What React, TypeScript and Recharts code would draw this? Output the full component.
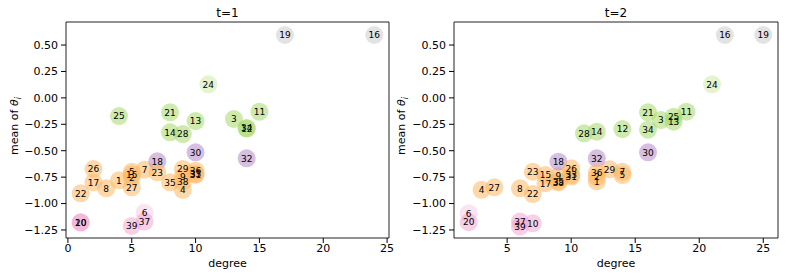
import React from 'react';
import { ScatterChart, Scatter, XAxis, YAxis, ReferenceArea, Customized } from 'recharts';

// node ids 1..39 and the cluster each node belongs to
const nodeIds = [
  1, 2, 3, 4, 5, 6, 7, 8, 9, 10, 11, 12, 13, 14, 15, 16, 17, 18, 19, 20,
  21, 22, 23, 24, 25, 26, 27, 28, 29, 30, 31, 32, 33, 34, 35, 36, 37, 38, 39,
];
const clusters = [
  'orange', 'orange', 'green', 'orange', 'orange', 'lightpink', 'orange', 'orange', 'orange', 'pink',
  'green', 'green', 'green', 'green', 'orange', 'gray', 'orange', 'purple', 'gray', 'pink',
  'green', 'orange', 'orange', 'lightgreen', 'green', 'orange', 'orange', 'green', 'orange', 'purple',
  'orange', 'purple', 'orange', 'green', 'orange', 'orange', 'pink', 'orange', 'pink',
];

// t=1
const degreeT1 = [
  4, 5, 13, 9, 5, 6, 6, 3, 9, 1, 15, 14, 10, 8, 5, 24, 2, 7, 17, 1,
  8, 1, 7, 11, 4, 2, 5, 9, 9, 10, 10, 14, 10, 14, 8, 10, 6, 9, 5,
];
const meanT1 = [
  -0.78, -0.755, -0.2, -0.87, -0.7, -1.087, -0.68, -0.856, -0.746, -1.18,
  -0.131, -0.29, -0.219, -0.326, -0.723, 0.595, -0.8, -0.6, 0.595, -1.178,
  -0.137, -0.903, -0.704, 0.128, -0.172, -0.673, -0.846, -0.342, -0.673, -0.515,
  -0.728, -0.572, -0.72, -0.286, -0.799, -0.689, -1.171, -0.793, -1.212,
];

// t=2
const degreeT2 = [
  12, 12, 17, 3, 14, 2, 14, 6, 9, 7, 19, 14, 18, 12, 8, 22, 8, 9, 25, 2,
  16, 7, 7, 21, 18, 10, 4, 11, 13, 16, 10, 12, 10, 16, 9, 12, 6, 9, 6,
];
const meanT2 = [
  -0.79, -0.75, -0.21, -0.87, -0.73, -1.092, -0.7, -0.856, -0.74, -1.187,
  -0.131, -0.295, -0.226, -0.32, -0.73, 0.595, -0.808, -0.604, 0.595, -1.177,
  -0.137, -0.91, -0.699, 0.128, -0.178, -0.667, -0.846, -0.335, -0.676, -0.515,
  -0.745, -0.572, -0.73, -0.301, -0.79, -0.708, -1.171, -0.8, -1.219,
];

const xTicksT1 = [0, 5, 10, 15, 20, 25];
const xTicksT2 = [5, 10, 15, 20, 25];
const yTicks = [-1.25, -1.0, -0.75, -0.5, -0.25, 0.0, 0.25, 0.5];

const COLORS: Record<string, string> = {
  orange: '#fdb863',
  purple: '#b48ac8',
  green: '#a6d96a',
  lightgreen: '#cdeba8',
  pink: '#f1a8d2',
  lightpink: '#f7cce3',
  gray: '#cccccc',
};

const FONT = 'DejaVu Sans';
const Y_DOMAIN: [number, number] = [-1.326, 0.718];

const fmtY = (v: number) => {
  const s = Math.abs(v).toFixed(2);
  return v < 0 ? '\u2212' + s : s;
};

const Dot = (props: any) => {
  const { cx, cy, payload } = props;
  return <circle cx={cx} cy={cy} r={9} fill={COLORS[payload.cluster]} fillOpacity={0.55} />;
};

const NodeLabel = (props: any) => {
  const { cx, cy, payload } = props;
  return (
    <text x={cx} y={cy} dy="0.36em" textAnchor="middle" fontSize={9} fontFamily={FONT} fill="#000">
      {payload.id}
    </text>
  );
};

interface PanelProps {
  title: string;
  degrees: number[];
  means: number[];
  xTicks: number[];
  xDomain: [number, number];
  width: number;
  yAxisWidth: number;
  rightMargin: number;
  yLabelX: number;
}

const Panel: React.FC<PanelProps> = ({ title, degrees, means, xTicks, xDomain, width, yAxisWidth, rightMargin, yLabelX }) => {
  const data = nodeIds.map((id, i) => ({ id, cluster: clusters[i], degree: degrees[i], mean: means[i] }));
  const plotLeft = yAxisWidth;
  const plotRight = width - rightMargin;
  const cx = (plotLeft + plotRight) / 2;

  return (
    <ScatterChart width={width} height={279} margin={{ top: 22, right: rightMargin, bottom: 0, left: 0 }}>
      <XAxis
        type="number"
        dataKey="degree"
        domain={xDomain}
        ticks={xTicks}
        allowDataOverflow
        height={41}
        axisLine={false}
        tickSize={5}
        tickMargin={1}
        tickLine={{ stroke: '#000' }}
        tick={{ fill: '#000', fontSize: 11, fontFamily: FONT }}
      />
      <YAxis
        type="number"
        dataKey="mean"
        domain={Y_DOMAIN}
        ticks={yTicks}
        allowDataOverflow
        width={yAxisWidth}
        axisLine={false}
        tickSize={5}
        tickMargin={3}
        tickFormatter={fmtY}
        tickLine={{ stroke: '#000' }}
        tick={{ fill: '#000', fontSize: 11, fontFamily: FONT }}
      />
      <ReferenceArea
        x1={xDomain[0]}
        x2={xDomain[1]}
        y1={Y_DOMAIN[0]}
        y2={Y_DOMAIN[1]}
        fill="none"
        stroke="#222"
        strokeWidth={1}
      />
      <Scatter data={data} shape={Dot} isAnimationActive={false} />
      <Scatter data={data} shape={NodeLabel} isAnimationActive={false} />
      <Customized
        component={() => (
          <g fontFamily={FONT} fill="#000">
            <text x={cx} y={17} textAnchor="middle" fontSize={12}>
              {title}
            </text>
            <text x={cx} y={267} textAnchor="middle" fontSize={11}>
              degree
            </text>
            <text transform={`translate(${yLabelX},126) rotate(-90)`} textAnchor="middle" fontSize={11}>
              mean of{' '}
              <tspan fontStyle="italic">θ</tspan>
              <tspan fontStyle="italic" fontSize={8} dy={3}>
                i
              </tspan>
            </text>
          </g>
        )}
      />
    </ScatterChart>
  );
};

export default function App() {
  return (
    <div style={{ position: 'absolute', left: 0, top: 0, width: 789, height: 279, background: '#fff', display: 'flex' }}>
      <Panel
        title="t=1"
        degrees={degreeT1}
        means={meanT1}
        xTicks={xTicksT1}
        xDomain={[-0.15, 25.15]}
        width={394}
        yAxisWidth={66}
        rightMargin={5}
        yLabelX={18}
      />
      <Panel
        title="t=2"
        degrees={degreeT2}
        means={meanT2}
        xTicks={xTicksT2}
        xDomain={[0.85, 26.15]}
        width={395}
        yAxisWidth={60}
        rightMargin={11}
        yLabelX={11}
      />
    </div>
  );
}
